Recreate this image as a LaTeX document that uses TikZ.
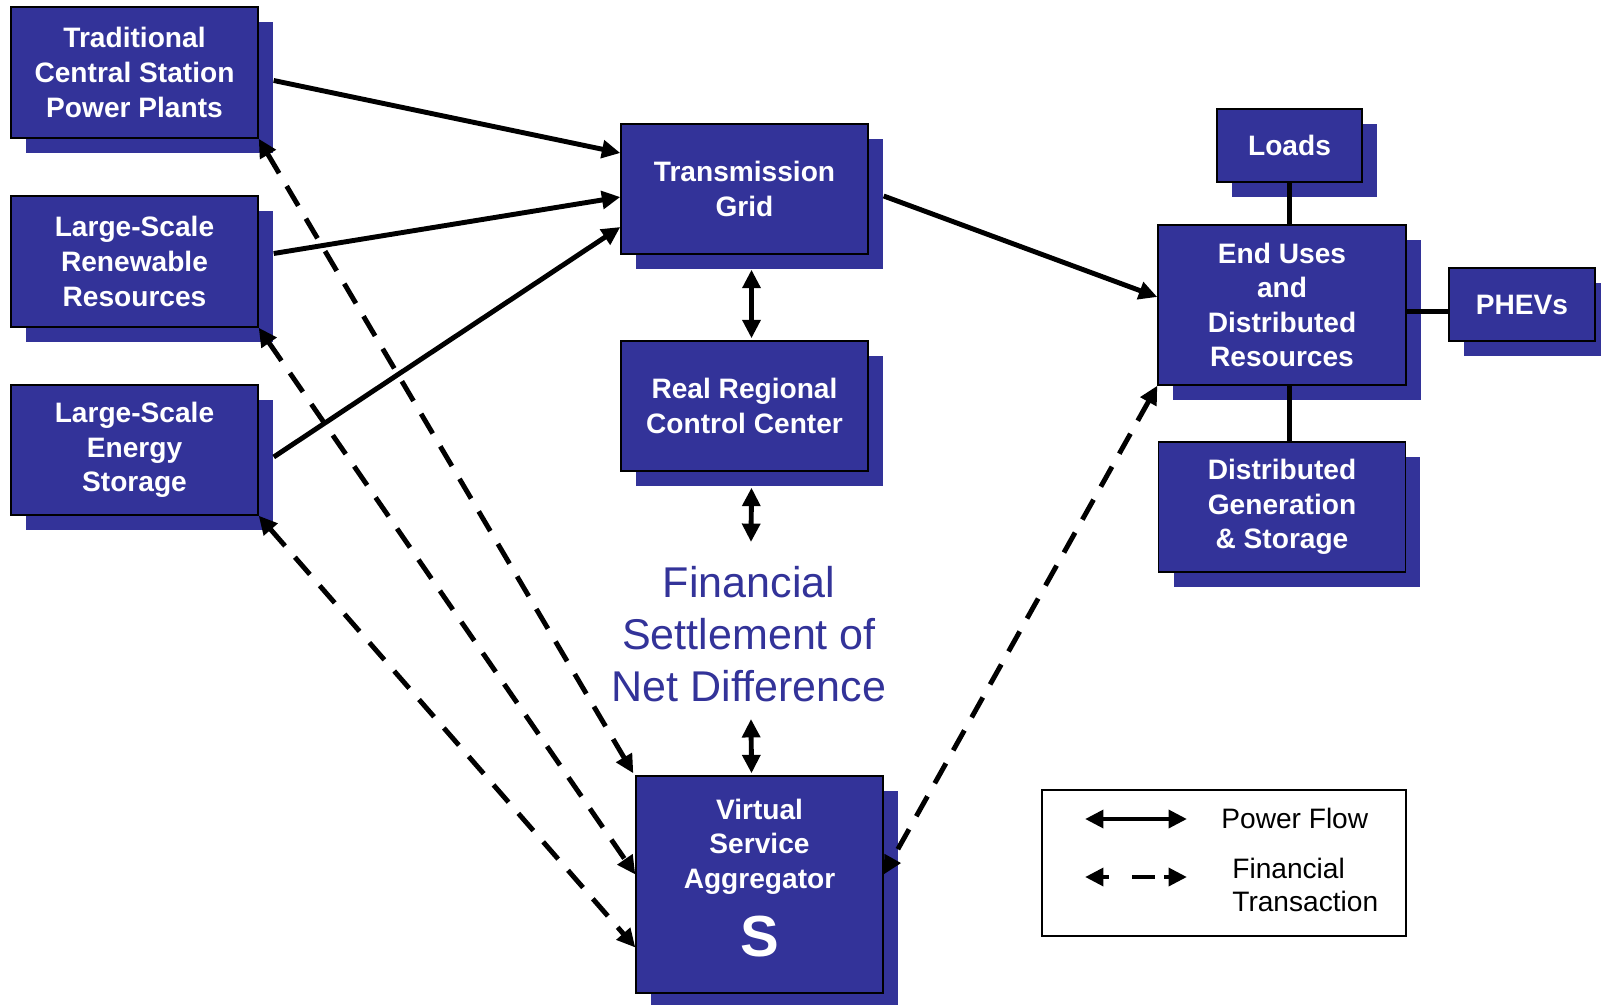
\documentclass[tikz,border=0pt]{standalone}
\usepackage{fontspec}
\setmainfont{Liberation Sans}
\usetikzlibrary{arrows.meta,shadows,calc}

\definecolor{vsblue}{RGB}{51,51,153}

\tikzset{
  vtip/.tip={Triangle[length=10.5pt,width=10pt]},
  blockbox/.style={draw=black, line width=0.8pt, fill=vsblue, text=white,
    font=\fontsize{16}{19.7}\selectfont\bfseries, align=center, inner sep=0pt,
    minimum width=4.94cm, minimum height=2.6cm,
    drop shadow={shadow xshift=0.3cm, shadow yshift=-0.3cm, fill=vsblue, opacity=1}},
  smallbox/.style={blockbox, minimum width=2.9cm, minimum height=1.46cm},
  powerline/.style={line width=2.8pt, -vtip},
  powerboth/.style={line width=2.8pt, vtip-vtip},
  moneyline/.style={line width=2.8pt, vtip-vtip, dash pattern=on 13pt off 8.5pt},
  plaintext/.style={inner sep=0pt, font=\fontsize{16}{19}\selectfont, align=left}
}

\begin{document}
\begin{tikzpicture}[x=0.02cm, y=-0.02cm]

  % one unit = one pixel of the 1601 x 1004 sheet, y runs downwards
  \useasboundingbox (0,0) rectangle (1601,1004);

  % sources on the left
  \node[blockbox, minimum height=2.62cm] (trad)    at (134.5,  72.5) {Traditional\\Central Station\\Power Plants};
  \node[blockbox, minimum height=2.62cm] (renew)   at (134.5, 261.5) {Large-Scale\\Renewable\\Resources};
  \node[blockbox]                        (storage) at (134.5, 450.0) {Large-Scale\\Energy\\Storage};

  % middle column
  \node[blockbox] (trans) at (744.5, 189.0) {Transmission\\Grid};
  \node[blockbox] (rrcc)  at (744.5, 406.0) {Real Regional\\Control Center};
  \node[inner sep=0pt, text=vsblue, align=center, font=\fontsize{24.5}{29.5}\selectfont]
    (fin) at (749, 634) {Financial\\Settlement of\\Net Difference};
  \node[blockbox, minimum height=4.34cm] (vsa) at (759.5, 884.5)
    {Virtual\\Service\\Aggregator\\[11pt]{\fontsize{33}{36}\selectfont S}\rule[-8pt]{0pt}{8pt}};

  % right column
  \node[smallbox]                         (loads)  at (1289.5, 145.5) {Loads};
  \node[blockbox, minimum width=4.96cm, minimum height=3.2cm] (enduse) at (1282, 305) {End Uses\\and\\Distributed\\Resources};
  \node[smallbox, minimum width=2.92cm]   (phev)   at (1522, 304.5) {PHEVs};
  \node[blockbox]                         (dgen)   at (1282, 507) {Distributed\\Generation\\\& Storage};

  % power flow
  \draw[powerline] ($(trad.east)+(15,8)$)     -- ($(trans.west)+(0,-36)$);
  \draw[powerline] ($(renew.east)+(15,-8)$)   -- ($(trans.west)+(0,8)$);
  \draw[powerline] ($(storage.east)+(15,7)$)  -- ($(trans.west)+(0,38)$);
  \draw[powerline] ($(trans.east)+(15,7)$)    -- ($(enduse.west)+(0,-8)$);

  \draw[powerboth] ($(trans.south)+(7,15)$)   -- ($(rrcc.north)+(7,-2)$);
  \draw[powerboth] ($(rrcc.south)+(7,16)$)    -- ($(fin.north)+(2,-24)$);
  \draw[powerboth] ($(fin.south)+(2,17)$)     -- ($(vsa.north)+(-8,-2)$);

  \coordinate (phevin) at ($(phev.west)+(0,7)$);
  \draw[line width=2.8pt] (loads.south) -- (loads.south |- enduse.north);
  \draw[line width=2.8pt] (enduse.south -| loads.south) -- (dgen.north -| loads.south);
  \draw[line width=2.8pt] (phevin -| enduse.east) -- (phevin);

  % financial transactions
  \draw[moneyline] (trad.south east)    -- ($(vsa.north west)+(-2,-2)$);
  \draw[moneyline] (renew.south east)   -- ($(vsa.west)+(0,-10)$);
  \draw[moneyline] (storage.south east) -- ($(vsa.west)+(0,63)$);
  \draw[moneyline] (enduse.south west)  -- ($(vsa.east)+(0,-10)$);

  % legend
  \node[draw=black, line width=0.8pt, minimum width=7.28cm, minimum height=2.92cm, inner sep=0pt]
    (legend) at (1224, 863) {};
  \coordinate (pfL) at (1085, 819);
  \coordinate (pfR) at (1187, 819);
  \coordinate (ftL) at (1085, 877);
  \coordinate (ftR) at (1187, 877);
  \draw[powerboth] (pfL) -- (pfR);
  \draw[line width=2.8pt, vtip-vtip, dash pattern=on 4pt off 13pt on 13pt off 5pt] (ftL) -- (ftR);
  \node[plaintext, anchor=west] (pflabel) at (1221, 818) {Power Flow};
  \node[plaintext, anchor=west] (ftlabel) at (1232, 885) {Financial\\Transaction};

\end{tikzpicture}
\end{document}
